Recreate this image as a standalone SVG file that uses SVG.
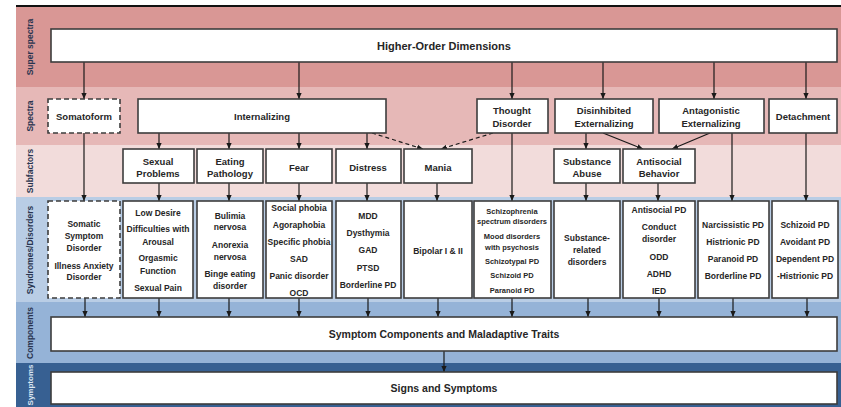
<svg xmlns="http://www.w3.org/2000/svg" width="841" height="407" viewBox="0 0 841 407">
  <defs>
    <marker id="arrow" viewBox="0 0 6 6" refX="6" refY="3" markerWidth="6" markerHeight="6" markerUnits="userSpaceOnUse" orient="auto">
      <path d="M0,0.4 L6,3 L0,5.6 z" fill="#1a1a1a"/>
    </marker>
  </defs>
  <style>
    .box { fill: #ffffff; stroke: #3d3d3d; stroke-width: 1.6; }
    .dash { fill: #ffffff; stroke: #3d3d3d; stroke-width: 1.6; stroke-dasharray: 5 3; }
    text { font-family: "Liberation Sans", Arial, sans-serif; font-weight: bold; fill: #262626; text-anchor: middle; dominant-baseline: central; }
    .t-big { font-size: 11px; }
    .t-mid { font-size: 10.5px; }
    .t-sp { font-size: 9.5px; }
    .t-sy { font-size: 8.5px; }
    .t-sm { font-size: 7.5px; }
    .band-label { font-size: 8.5px; fill: #2a3550; }
    .conn line { stroke: #1a1a1a; stroke-width: 1.2; marker-end: url(#arrow); }
    .conn .dashed { stroke-dasharray: 4 3; }
  </style>

  <!-- level bands -->
  <g id="bands">
    <rect x="16" y="7" width="825" height="80" fill="#d99795"/>
    <rect x="16" y="87" width="825" height="58" fill="#e6b8b7"/>
    <rect x="16" y="145" width="825" height="52" fill="#f2dcdb"/>
    <rect x="16" y="197" width="825" height="105" fill="#b9cde5"/>
    <rect x="16" y="302" width="825" height="61" fill="#95b3d7"/>
    <rect x="16" y="363" width="825" height="44" fill="#376092"/>
    <line x1="16" y1="6" x2="841" y2="6" stroke="#111" stroke-width="2"/>
  </g>

  <!-- band labels -->
  <g id="band-labels">
    <text class="band-label" transform="translate(30,47) rotate(-90)">Super spectra</text>
    <text class="band-label" transform="translate(30,116) rotate(-90)">Spectra</text>
    <text class="band-label" transform="translate(30,171) rotate(-90)">Subfactors</text>
    <text class="band-label" transform="translate(30,250) rotate(-90)">Syndromes/Disorders</text>
    <text class="band-label" transform="translate(30,333) rotate(-90)">Components</text>
    <text class="band-label" transform="translate(30,385) rotate(-90)" style="fill:#dce6f2;font-size:8px">Symptoms</text>
  </g>

  <!-- connectors -->
  <g id="connectors" class="conn">
    <!-- higher-order to spectra -->
    <line x1="84" y1="62" x2="84" y2="99"/>
    <line x1="299" y1="62" x2="299" y2="99"/>
    <line x1="512" y1="62" x2="512" y2="99"/>
    <line x1="603" y1="62" x2="603" y2="99"/>
    <line x1="714" y1="62" x2="714" y2="99"/>
    <line x1="806" y1="62" x2="806" y2="99"/>
    <!-- spectra to subfactors -->
    <line x1="159" y1="133" x2="159" y2="149"/>
    <line x1="229" y1="133" x2="229" y2="149"/>
    <line x1="299" y1="133" x2="299" y2="149"/>
    <line x1="367" y1="133" x2="367" y2="149"/>
    <line class="dashed" x1="372" y1="133" x2="423" y2="149"/>
    <line class="dashed" x1="493" y1="133" x2="441" y2="149"/>
    <line x1="586" y1="133" x2="586" y2="149"/>
    <line x1="603" y1="133" x2="643" y2="149"/>
    <line x1="710" y1="133" x2="672" y2="149"/>
    <!-- spectra straight to syndromes -->
    <line x1="84" y1="133" x2="84" y2="201"/>
    <line x1="512" y1="133" x2="512" y2="201"/>
    <line x1="732" y1="133" x2="732" y2="201"/>
    <line x1="806" y1="133" x2="806" y2="201"/>
    <!-- subfactors to syndromes -->
    <line x1="159" y1="183" x2="159" y2="201"/>
    <line x1="229" y1="183" x2="229" y2="201"/>
    <line x1="299" y1="183" x2="299" y2="201"/>
    <line x1="367" y1="183" x2="367" y2="201"/>
    <line x1="437" y1="183" x2="437" y2="201"/>
    <line x1="586" y1="183" x2="586" y2="201"/>
    <line x1="658" y1="183" x2="658" y2="201"/>
    <!-- syndromes to components -->
    <line x1="85" y1="298" x2="85" y2="317"/>
    <line x1="159" y1="298" x2="159" y2="317"/>
    <line x1="229" y1="298" x2="229" y2="317"/>
    <line x1="299" y1="298" x2="299" y2="317"/>
    <line x1="368" y1="298" x2="368" y2="317"/>
    <line x1="438" y1="298" x2="438" y2="317"/>
    <line x1="512" y1="298" x2="512" y2="317"/>
    <line x1="588" y1="298" x2="588" y2="317"/>
    <line x1="659" y1="298" x2="659" y2="317"/>
    <line x1="733" y1="298" x2="733" y2="317"/>
    <line x1="807" y1="298" x2="807" y2="317"/>
    <!-- components to symptoms -->
    <line x1="444" y1="351" x2="444" y2="372"/>
  </g>

  <!-- super spectra -->
  <g id="higher-order">
    <rect class="box" x="51" y="29" width="786" height="33"/>
    <text class="t-big" x="444" y="46">Higher-Order Dimensions</text>
  </g>

  <!-- spectra -->
  <g id="somatoform">
    <rect class="dash" x="48" y="99" width="72" height="34"/>
    <text class="t-sp" x="84" y="116">Somatoform</text>
  </g>
  <g id="internalizing">
    <rect class="box" x="138" y="99" width="248" height="34"/>
    <text class="t-sp" x="262" y="116">Internalizing</text>
  </g>
  <g id="thought-disorder">
    <rect class="box" x="477" y="99" width="71" height="34"/>
    <text class="t-sp" x="512" y="110">Thought</text>
    <text class="t-sp" x="512" y="123">Disorder</text>
  </g>
  <g id="disinhibited">
    <rect class="box" x="555" y="99" width="98" height="34"/>
    <text class="t-sp" x="604" y="110">Disinhibited</text>
    <text class="t-sp" x="604" y="123">Externalizing</text>
  </g>
  <g id="antagonistic">
    <rect class="box" x="659" y="99" width="105" height="34"/>
    <text class="t-sp" x="711" y="110">Antagonistic</text>
    <text class="t-sp" x="711" y="123">Externalizing</text>
  </g>
  <g id="detachment">
    <rect class="box" x="769" y="99" width="68" height="34"/>
    <text class="t-sp" x="803" y="116">Detachment</text>
  </g>

  <!-- subfactors -->
  <g id="sexual-problems">
    <rect class="box" x="123" y="149" width="71" height="34"/>
    <text class="t-sp" x="158" y="161">Sexual</text>
    <text class="t-sp" x="158" y="173">Problems</text>
  </g>
  <g id="eating-pathology">
    <rect class="box" x="197" y="149" width="66" height="34"/>
    <text class="t-sp" x="230" y="161">Eating</text>
    <text class="t-sp" x="230" y="173">Pathology</text>
  </g>
  <g id="fear">
    <rect class="box" x="266" y="149" width="66" height="34"/>
    <text class="t-sp" x="299" y="167">Fear</text>
  </g>
  <g id="distress">
    <rect class="box" x="336" y="149" width="65" height="34"/>
    <text class="t-sp" x="368" y="167">Distress</text>
  </g>
  <g id="mania">
    <rect class="box" x="404" y="149" width="68" height="34"/>
    <text class="t-sp" x="438" y="167">Mania</text>
  </g>
  <g id="substance-abuse">
    <rect class="box" x="554" y="149" width="66" height="34"/>
    <text class="t-sp" x="587" y="161">Substance</text>
    <text class="t-sp" x="587" y="173">Abuse</text>
  </g>
  <g id="antisocial-behavior">
    <rect class="box" x="623" y="149" width="72" height="34"/>
    <text class="t-sp" x="659" y="161">Antisocial</text>
    <text class="t-sp" x="659" y="173">Behavior</text>
  </g>

  <!-- syndromes / disorders -->
  <g id="somatic-disorders">
    <rect class="dash" x="48" y="201" width="72" height="97"/>
    <text class="t-sy" x="84" y="224">Somatic</text>
    <text class="t-sy" x="84" y="236">Symptom</text>
    <text class="t-sy" x="84" y="248">Disorder</text>
    <text class="t-sy" x="84" y="266">Illness Anxiety</text>
    <text class="t-sy" x="84" y="277">Disorder</text>
  </g>
  <g id="sexual-disorders">
    <rect class="box" x="123" y="201" width="70" height="97"/>
    <text class="t-sy" x="158" y="213">Low Desire</text>
    <text class="t-sy" x="158" y="229">Difficulties with</text>
    <text class="t-sy" x="158" y="242">Arousal</text>
    <text class="t-sy" x="158" y="258">Orgasmic</text>
    <text class="t-sy" x="158" y="271">Function</text>
    <text class="t-sy" x="158" y="288">Sexual Pain</text>
  </g>
  <g id="eating-disorders">
    <rect class="box" x="197" y="201" width="66" height="97"/>
    <text class="t-sy" x="230" y="216">Bulimia</text>
    <text class="t-sy" x="230" y="227">nervosa</text>
    <text class="t-sy" x="230" y="245">Anorexia</text>
    <text class="t-sy" x="230" y="257">nervosa</text>
    <text class="t-sy" x="230" y="274">Binge eating</text>
    <text class="t-sy" x="230" y="286">disorder</text>
  </g>
  <g id="fear-disorders">
    <rect class="box" x="266" y="201" width="66" height="97"/>
    <text class="t-sy" x="299" y="208">Social phobia</text>
    <text class="t-sy" x="299" y="225">Agoraphobia</text>
    <text class="t-sy" x="299" y="242">Specific phobia</text>
    <text class="t-sy" x="299" y="259">SAD</text>
    <text class="t-sy" x="299" y="276">Panic disorder</text>
    <text class="t-sy" x="299" y="293">OCD</text>
  </g>
  <g id="distress-disorders">
    <rect class="box" x="336" y="201" width="65" height="97"/>
    <text class="t-sy" x="368" y="216">MDD</text>
    <text class="t-sy" x="368" y="233">Dysthymia</text>
    <text class="t-sy" x="368" y="250">GAD</text>
    <text class="t-sy" x="368" y="268">PTSD</text>
    <text class="t-sy" x="368" y="285">Borderline PD</text>
  </g>
  <g id="bipolar">
    <rect class="box" x="404" y="201" width="68" height="97"/>
    <text class="t-sy" x="438" y="251">Bipolar I &amp; II</text>
  </g>
  <g id="psychotic-disorders">
    <rect class="box" x="474" y="201" width="77" height="97"/>
    <text class="t-sm" x="512" y="211">Schizophrenia</text>
    <text class="t-sm" x="512" y="221">spectrum disorders</text>
    <text class="t-sm" x="512" y="236">Mood disorders</text>
    <text class="t-sm" x="512" y="247">with psychosis</text>
    <text class="t-sm" x="512" y="261">Schizotypal  PD</text>
    <text class="t-sm" x="512" y="275">Schizoid  PD</text>
    <text class="t-sm" x="512" y="290">Paranoid  PD</text>
  </g>
  <g id="substance-disorders">
    <rect class="box" x="554" y="201" width="66" height="97"/>
    <text class="t-sy" x="587" y="238">Substance-</text>
    <text class="t-sy" x="587" y="250">related</text>
    <text class="t-sy" x="587" y="262">disorders</text>
  </g>
  <g id="antisocial-disorders">
    <rect class="box" x="623" y="201" width="72" height="97"/>
    <text class="t-sy" x="659" y="210">Antisocial PD</text>
    <text class="t-sy" x="659" y="227">Conduct</text>
    <text class="t-sy" x="659" y="239">disorder</text>
    <text class="t-sy" x="659" y="257">ODD</text>
    <text class="t-sy" x="659" y="274">ADHD</text>
    <text class="t-sy" x="659" y="291">IED</text>
  </g>
  <g id="antagonistic-disorders">
    <rect class="box" x="698" y="201" width="71" height="97"/>
    <text class="t-sy" x="733" y="225">Narcissistic PD</text>
    <text class="t-sy" x="733" y="242">Histrionic PD</text>
    <text class="t-sy" x="733" y="259">Paranoid PD</text>
    <text class="t-sy" x="733" y="276">Borderline PD</text>
  </g>
  <g id="detachment-disorders">
    <rect class="box" x="772" y="201" width="66" height="97"/>
    <text class="t-sy" x="805" y="225">Schizoid PD</text>
    <text class="t-sy" x="805" y="242">Avoidant PD</text>
    <text class="t-sy" x="805" y="259">Dependent PD</text>
    <text class="t-sy" x="805" y="276">-Histrionic PD</text>
  </g>

  <!-- components and symptoms -->
  <g id="components">
    <rect class="box" x="51" y="317" width="786" height="34"/>
    <text class="t-mid" x="444" y="334">Symptom Components and Maladaptive Traits</text>
  </g>
  <g id="signs-symptoms">
    <rect class="box" x="51" y="372" width="786" height="32"/>
    <text class="t-mid" x="444" y="388">Signs and Symptoms</text>
  </g>
</svg>
